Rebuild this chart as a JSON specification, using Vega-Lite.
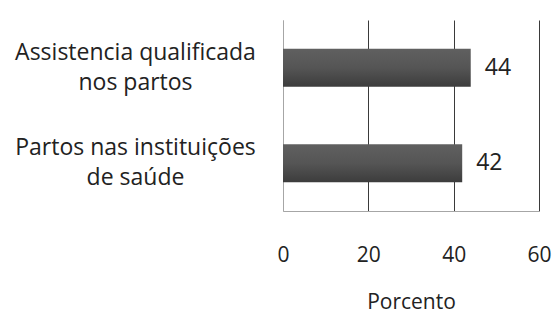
{
  "$schema": "https://vega.github.io/schema/vega-lite/v6.json",
  "width": 256,
  "height": 191,
  "autosize": {"type": "none"},
  "padding": {"left": 283, "top": 20, "right": 16, "bottom": 103},
  "background": "white",
  "config": {
    "font": "Open Sans",
    "view": {"stroke": null},
    "axis": {"labelColor": "#222222", "titleColor": "#222222"}
  },
  "data": {
    "values": [
      {"categoria": "Assistencia qualificada|nos partos", "porcento": 44},
      {"categoria": "Partos nas instituições|de saúde", "porcento": 42}
    ]
  },
  "encoding": {
    "y": {
      "field": "categoria",
      "type": "nominal",
      "sort": null,
      "scale": {"paddingInner": 0.6, "paddingOuter": 0.3},
      "axis": {
        "title": null,
        "ticks": false,
        "labelExpr": "split(datum.label, '|')",
        "labelAlign": "center",
        "labelBaseline": "middle",
        "labelPadding": 148,
        "labelOffset": -15,
        "labelFontSize": 23,
        "labelLineHeight": 30,
        "labelLimit": 400,
        "domainColor": "#a6a6a6",
        "domainWidth": 1
      }
    },
    "x": {
      "field": "porcento",
      "type": "quantitative",
      "scale": {"domain": [0, 60], "nice": false},
      "axis": {
        "title": "Porcento",
        "values": [0, 20, 40, 60],
        "ticks": false,
        "labelFontSize": 21,
        "labelBaseline": "middle",
        "labelPadding": 44,
        "labelFlush": false,
        "titleFontSize": 21,
        "titleFontWeight": "normal",
        "titlePadding": 26,
        "domainColor": "#a6a6a6",
        "grid": true,
        "gridColor": {"condition": {"test": "datum.value === 0", "value": "#a6a6a6"}, "value": "#3a3a3a"},
        "gridWidth": 1
      }
    }
  },
  "layer": [
    {
      "mark": {
        "type": "bar",
        "color": {
          "x1": 0, "y1": 0, "x2": 0, "y2": 1,
          "gradient": "linear",
          "stops": [
            {"offset": 0, "color": "#606060"},
            {"offset": 0.5, "color": "#555555"},
            {"offset": 1, "color": "#3c3c3c"}
          ]
        }
      }
    },
    {
      "mark": {"type": "text", "align": "left", "baseline": "middle", "dx": 14, "fontSize": 23, "color": "#222222"},
      "encoding": {"text": {"field": "porcento", "type": "quantitative"}}
    }
  ]
}
